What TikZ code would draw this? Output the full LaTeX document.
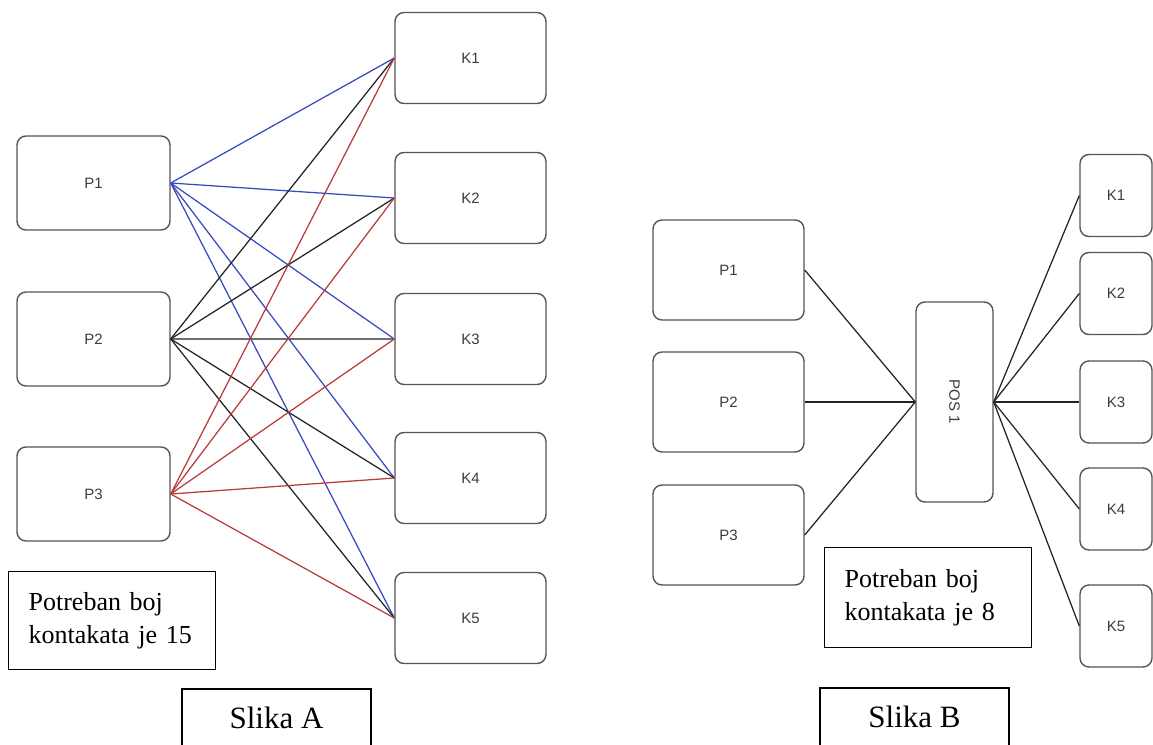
\documentclass[tikz,border=0pt]{standalone}
\usepackage{fontspec}
\setmainfont{Liberation Serif}
\newfontfamily\boxfont{Liberation Sans}
\definecolor{boxgray}{RGB}{85,85,85}
\definecolor{labelgray}{RGB}{60,60,60}
\definecolor{lblue}{RGB}{55,75,190}
\definecolor{lred}{RGB}{185,60,60}
\definecolor{lblack}{RGB}{35,35,35}
\definecolor{lgray}{RGB}{110,110,110}
\begin{document}
\begin{tikzpicture}[x=1pt,y=-1pt,
  rbox/.style={draw=boxgray, line width=1.4pt, rounded corners=9pt, inner sep=0pt,
    font=\boxfont\fontsize{15}{18}\selectfont, text=labelgray},
  lp/.style={rbox, minimum width=153pt, minimum height=94pt},
  lk/.style={rbox, minimum width=151pt, minimum height=91pt},
  rp/.style={rbox, minimum width=151pt, minimum height=100pt},
  rk/.style={rbox, minimum width=72pt, minimum height=82pt},
  note/.style={draw=black, line width=1.3pt, anchor=north west, minimum width=207pt,
    text width=167pt, inner xsep=20pt, inner ysep=0pt, align=left,
    font=\fontsize{26}{33}\selectfont},
  title/.style={draw=black, line width=1.5pt, anchor=north, minimum width=189pt,
    text height=21pt, text depth=0pt, inner ysep=19pt, font=\fontsize{31}{36}\selectfont},
  bl/.style={draw=lblue, line width=1.25pt},
  rl/.style={draw=lred, line width=1.25pt},
  kl/.style={draw=lblack, line width=1.25pt},
  gl/.style={draw=lgray, line width=2.4pt},
  cl/.style={draw=lblack, line width=1.25pt}]
\useasboundingbox (0,0) rectangle (1153,744);
\clip (0,0) rectangle (1153,744);

% ---------- Slika A ----------
\node[lp] (aP1) at (93.5,183) {P1};
\node[lp] (aP2) at (93.5,339) {P2};
\node[lp] (aP3) at (93.5,494) {P3};
\node[lk] (aK1) at (470.5,58) {K1};
\node[lk] (aK2) at (470.5,198) {K2};
\node[lk] (aK3) at (470.5,339) {K3};
\node[lk] (aK4) at (470.5,478) {K4};
\node[lk] (aK5) at (470.5,618) {K5};

\draw[gl] (aP2.east) -- (aK3.west);
\foreach \k in {1,...,5}{
  \draw[bl] (aP1.east) -- (aK\k.west);
}
\foreach \k in {1,2,4,5}{
  \draw[kl] (aP2.east) -- (aK\k.west);
}
\foreach \k in {1,...,5}{
  \draw[rl] (aP3.east) -- (aK\k.west);
}

\node[note, minimum height=98pt] (aNote) at (8,571) {Potreban boj\\kontakata je 15};
\node[title] (aTitle) at (276.5,688) {Slika A};

% ---------- Slika B ----------
\node[rp] (bP1) at (728.5,270) {P1};
\node[rp] (bP2) at (728.5,402) {P2};
\node[rp] (bP3) at (728.5,535) {P3};
\node[rbox, minimum width=77pt, minimum height=200pt] (bPOS) at (954.5,402) {\rotatebox{-90}{POS 1}};
\node[rk] (bK1) at (1116,195.5) {K1};
\node[rk] (bK2) at (1116,293.5) {K2};
\node[rk] (bK3) at (1116,402) {K3};
\node[rk] (bK4) at (1116,509) {K4};
\node[rk] (bK5) at (1116,626) {K5};

\foreach \p in {1,2,3}{
  \draw[cl] (bP\p.east) -- (bPOS.west);
}
\foreach \k in {1,...,5}{
  \draw[cl] (bPOS.east) -- (bK\k.west);
}

\node[note, minimum height=100pt] (bNote) at (824,547) {Potreban boj\\kontakata je 8};
\node[title] (bTitle) at (914.5,687) {Slika B};
\end{tikzpicture}
\end{document}
